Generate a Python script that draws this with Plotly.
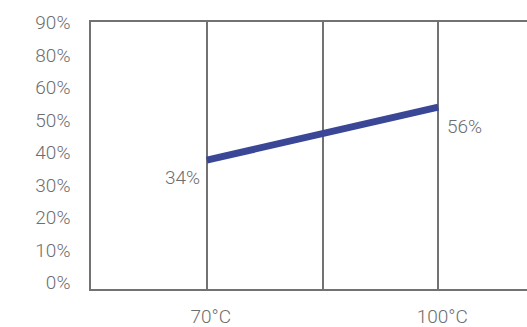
import plotly.graph_objects as go

# Data
temps = [70, 100]
values = [34, 56]
value_labels = ["34%", "56%"]
x_tick_vals = [70, 85, 100]
x_tick_text = ["70°C", "", "100°C"]
y_tick_labels = ["0%", "10%", "20%", "30%", "40%", "50%", "60%", "80%", "90%"]

LINE_COLOR = "#3a4796"
AXIS_COLOR = "#727272"
TEXT_COLOR = "#6e6e6e"
FONT = "Roboto"
FSIZE = 19

fig = go.Figure()
# empty trace so the label axis subplot is drawn
fig.add_trace(go.Scatter(x=[], y=[], yaxis="y", showlegend=False, hoverinfo="skip"))
fig.add_trace(go.Scatter(
    x=temps, y=values, mode="lines",
    line=dict(color=LINE_COLOR, width=7),
    yaxis="y2", hoverinfo="skip", showlegend=False,
))

fig.add_annotation(x=temps[0], y=values[0], xref="x", yref="y2", text=value_labels[0],
                   showarrow=False, xanchor="right", yanchor="middle", xshift=-5, yshift=-17,
                   font=dict(family=FONT, size=FSIZE, color=TEXT_COLOR, weight=300))
fig.add_annotation(x=temps[1], y=values[1], xref="x", yref="y2", text=value_labels[1],
                   showarrow=False, xanchor="left", yanchor="middle", xshift=7, yshift=-19,
                   font=dict(family=FONT, size=FSIZE, color=TEXT_COLOR, weight=300))

fig.update_layout(
    width=527, height=327,
    margin=dict(l=91, r=0, t=22, b=38),
    paper_bgcolor="white", plot_bgcolor="white",
    font=dict(family=FONT, size=FSIZE, color=TEXT_COLOR, weight=300),
    xaxis=dict(
        range=[55, 111.5], tickvals=x_tick_vals, ticktext=x_tick_text,
        showgrid=True, gridcolor=AXIS_COLOR, gridwidth=1.5,
        showline=True, linecolor=AXIS_COLOR, linewidth=1.5, mirror=True,
        ticks="", ticklabelstandoff=9, ticklabelshift=4, zeroline=False,
        automargin=False,
        tickfont=dict(family=FONT, size=FSIZE, color=TEXT_COLOR, weight=300),
    ),
    yaxis=dict(
        range=[-0.19, 8.02], tickvals=list(range(len(y_tick_labels))), ticktext=y_tick_labels,
        showgrid=False, zeroline=False,
        showline=True, linecolor=AXIS_COLOR, linewidth=1.5,
        ticks="", ticklabelstandoff=15, automargin=False,
        tickfont=dict(family=FONT, size=FSIZE, color=TEXT_COLOR, weight=300),
    ),
    yaxis2=dict(range=[-19.5, 91.3], overlaying="y", visible=False, automargin=False),
)

fig.write_html(
    "out.html",
    config={"displayModeBar": False},
    post_script="document.body.style.margin='0';document.documentElement.style.overflow='hidden';",
)
